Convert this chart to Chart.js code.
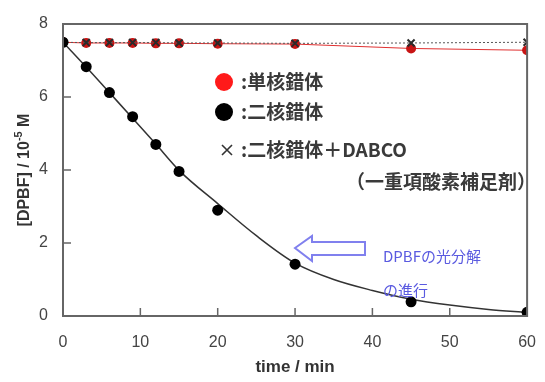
<!DOCTYPE html>
<html>
<head>
<meta charset="utf-8">
<script src="https://cdn.jsdelivr.net/npm/chart.js@4.4.1/dist/chart.umd.min.js"></script>
<style>
  html, body { margin: 0; padding: 0; background: #fff; }
  #wrap { width: 545px; height: 382px; }
</style>
</head>
<body>
<div id="wrap"><canvas id="myChart" width="545" height="382"></canvas></div>
<script>
// data
const times = [0, 3, 6, 9, 12, 15, 20, 30, 45, 60];
const mono = [7.5, 7.48, 7.48, 7.48, 7.47, 7.47, 7.46, 7.45, 7.33, 7.28];        // 単核錯体
const di = [7.5, 6.83, 6.12, 5.46, 4.70, 3.96, 2.90, 1.42, 0.39, 0.10];           // 二核錯体
const diDabco = [7.5, 7.49, 7.49, 7.49, 7.49, 7.48, 7.48, 7.47, 7.48, 7.5];       // 二核錯体＋DABCO
const fitTimes = [0, 3, 6, 9, 12, 15, 20, 25, 30, 35, 40, 45, 50, 55, 60];
const fitVals = [7.5, 6.82, 6.12, 5.42, 4.71, 3.99, 3.08, 2.2, 1.45, 1.0, 0.7, 0.46, 0.3, 0.18, 0.1];
const xTicks = [0, 10, 20, 30, 40, 50, 60];
const yTicks = [0, 2, 4, 6, 8];

const pts = (xs, ys) => xs.map((x, i) => ({ x: x, y: ys[i] }));

// frame, inward ticks, y title, legend and the note
const extras = {
  id: 'extras',
  afterDraw(chart) {
    const ctx = chart.ctx;
    const a = chart.chartArea;
    const xs = chart.scales.x, ys = chart.scales.y;
    ctx.save();
    ctx.strokeStyle = '#666';
    ctx.lineWidth = 2;
    ctx.strokeRect(a.left, a.top, a.right - a.left, a.bottom - a.top);
    ctx.lineWidth = 1.5;
    ctx.beginPath();
    xTicks.forEach(v => {
      const px = xs.getPixelForValue(v);
      ctx.moveTo(px, a.bottom); ctx.lineTo(px, a.bottom - 8);
    });
    yTicks.forEach(v => {
      const py = ys.getPixelForValue(v);
      ctx.moveTo(a.left, py); ctx.lineTo(a.left + 8, py);
    });
    ctx.stroke();

    // y title with superscript
    ctx.save();
    ctx.translate(25, (a.top + a.bottom) / 2);
    ctx.rotate(-Math.PI / 2);
    ctx.fillStyle = '#333';
    ctx.textBaseline = 'middle';
    ctx.textAlign = 'left';
    const big = 'bold 16px "Liberation Sans"', small = 'bold 11px "Liberation Sans"';
    ctx.font = big;
    const p1 = '[DPBF] / 10', p3 = ' M';
    ctx.font = small;
    const w2 = ctx.measureText('-5').width;
    ctx.font = big;
    const w1 = ctx.measureText(p1).width, w3 = ctx.measureText(p3).width;
    let x0 = -(w1 + w2 + w3) / 2;
    ctx.fillText(p1, x0, 0);
    ctx.font = small;
    ctx.fillText('-5', x0 + w1, -6);
    ctx.font = big;
    ctx.fillText(p3, x0 + w1 + w2, 0);
    ctx.restore();

    // legend
    ctx.fillStyle = '#ff1a1a';
    ctx.beginPath(); ctx.arc(224, 82, 9, 0, Math.PI * 2); ctx.fill();
    ctx.fillStyle = '#000';
    ctx.beginPath(); ctx.arc(224, 112, 9, 0, Math.PI * 2); ctx.fill();
    ctx.strokeStyle = '#333';
    ctx.lineWidth = 1.6;
    ctx.beginPath();
    ctx.moveTo(222, 145); ctx.lineTo(232, 155);
    ctx.moveTo(232, 145); ctx.lineTo(222, 155);
    ctx.stroke();

    ctx.fillStyle = '#3a3a3a';
    ctx.textBaseline = 'middle';
    ctx.textAlign = 'left';
    ctx.font = 'bold 19px "Noto Sans CJK JP"';
    ctx.fillText(':単核錯体', 241, 82);
    ctx.fillText(':二核錯体', 241, 112);
    ctx.fillText(':二核錯体＋DABCO', 241, 150);
    ctx.textAlign = 'right';
    ctx.fillText('（一重項酸素補足剤）', 536, 182);

    // hollow arrow
    ctx.strokeStyle = '#8080ee';
    ctx.lineWidth = 2;
    ctx.beginPath();
    ctx.moveTo(295, 248);
    ctx.lineTo(312, 236);
    ctx.lineTo(312, 242);
    ctx.lineTo(365, 242);
    ctx.lineTo(365, 255);
    ctx.lineTo(312, 255);
    ctx.lineTo(312, 261);
    ctx.closePath();
    ctx.stroke();

    ctx.fillStyle = '#5a5ae0';
    ctx.textAlign = 'left';
    ctx.font = '15px "Noto Sans CJK JP"';
    ctx.fillText('DPBFの光分解', 383, 256);
    ctx.fillText('の進行', 383, 290);
    ctx.restore();
  }
};

new Chart(document.getElementById('myChart'), {
  type: 'scatter',
  data: {
    datasets: [
      {
        label: '二核錯体',
        data: pts(times, di),
        showLine: false,
        backgroundColor: '#000',
        pointRadius: 5.5,
        pointBorderWidth: 0
      },
      {
        label: '二核錯体＋DABCO',
        data: pts(times, diDabco),
        showLine: true,
        borderColor: '#555',
        borderWidth: 1,
        borderDash: [2, 2],
        pointStyle: 'crossRot',
        pointRadius: 5,
        pointBorderColor: '#2a2a2a',
        pointBorderWidth: 2
      },
      {
        label: '単核錯体',
        data: pts(times, mono),
        showLine: true,
        borderColor: '#e03030',
        borderWidth: 1,
        backgroundColor: '#c81414',
        pointRadius: 5,
        pointBorderWidth: 0
      },
      {
        label: 'fit',
        data: pts(fitTimes, fitVals),
        showLine: true,
        borderColor: '#333',
        borderWidth: 1.5,
        pointRadius: 0,
        cubicInterpolationMode: 'monotone'
      }
    ]
  },
  options: {
    responsive: false,
    animation: false,
    layout: { padding: { left: 0, right: 15, top: 24, bottom: 0 } },
    plugins: { legend: { display: false }, tooltip: { enabled: false } },
    scales: {
      x: {
        type: 'linear',
        min: 0, max: 60,
        afterFit: s => { s.height = 66; },
        afterBuildTicks: s => { s.ticks = xTicks.map(v => ({ value: v })); },
        grid: { display: false },
        border: { display: false },
        ticks: { padding: 9, color: '#444', font: { family: 'Liberation Sans', size: 16 } },
        title: { display: true, text: 'time / min', color: '#333', padding: { top: 9 },
          font: { family: 'Liberation Sans', size: 17, weight: 'bold' } }
      },
      y: {
        min: 0, max: 8,
        afterFit: s => { s.width = 63; },
        afterBuildTicks: s => { s.ticks = yTicks.map(v => ({ value: v })); },
        grid: { display: false },
        border: { display: false },
        ticks: { padding: 7, color: '#444', font: { family: 'Liberation Sans', size: 16 } }
      }
    }
  },
  plugins: [extras]
});
</script>
</body>
</html>
